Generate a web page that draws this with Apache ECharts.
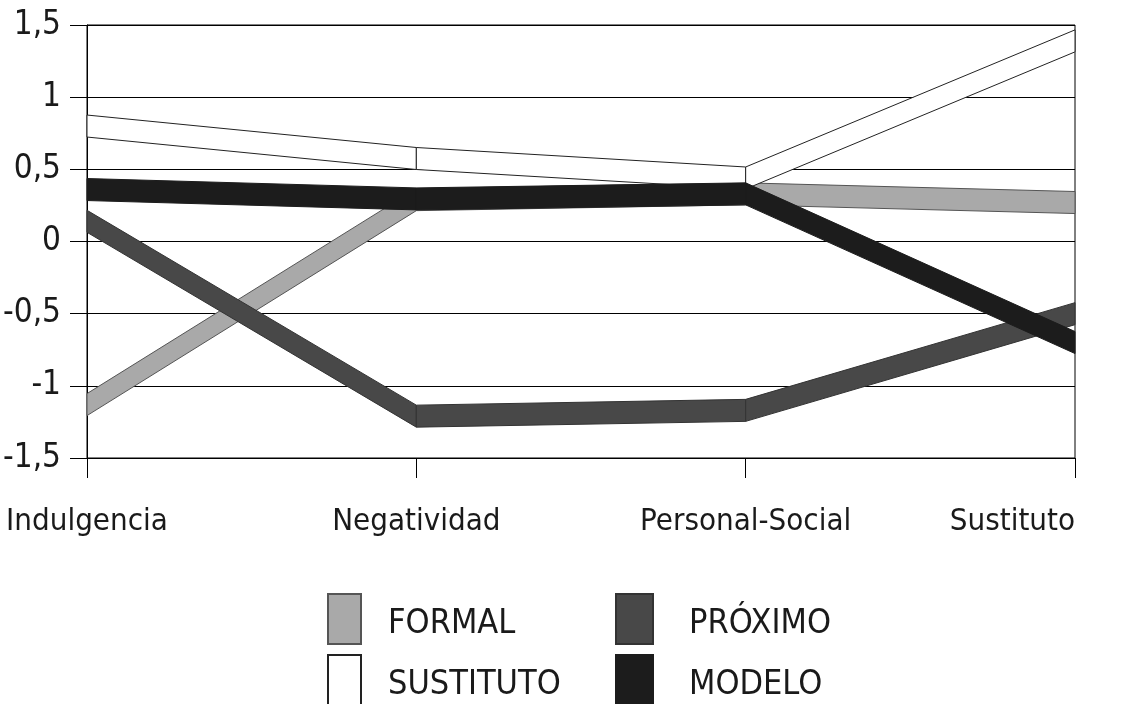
<!DOCTYPE html>
<html>
<head>
<meta charset="utf-8">
<script src="https://cdn.jsdelivr.net/npm/echarts@6/dist/echarts.min.js"></script>
<style>
html,body{margin:0;padding:0;background:#fff;}
#chart{width:1140px;height:704px;}
</style>
</head>
<body>
<div id="chart"></div>
<script>
const categories = ['Indulgencia', 'Negatividad', 'Personal-Social', 'Sustituto'];
const formal    = [-1.13, 0.29, 0.33, 0.27];
const sustituto = [0.80, 0.575, 0.44, 1.39];
const proximo   = [0.14, -1.21, -1.17, -0.50];
const modelo    = [0.36, 0.295, 0.33, -0.70];
const yTicks = [-1.5, -1, -0.5, 0, 0.5, 1, 1.5];
const legendCol1 = ['FORMAL', 'SUSTITUTO'];
const legendCol2 = ['PRÓXIMO', 'MODELO'];

const FONT = "'Liberation Sans Narrow','DejaVu Sans Condensed','Liberation Sans',sans-serif";
const HALF = 11; // half of ribbon vertical thickness in px

function segments(arr) {
  return arr.slice(0, -1).map((v, i) => [i, v, arr[i + 1]]);
}

function makeRibbon(name, arr, fill, stroke) {
  return {
    name: name,
    type: 'custom',
    data: segments(arr),
    encode: { x: 0, y: [1, 2] },
    itemStyle: { color: fill, borderColor: stroke, borderWidth: 1 },
    renderItem: function (params, api) {
      const i = api.value(0);
      const a = api.coord([i, api.value(1)]);
      const b = api.coord([i + 1, api.value(2)]);
      return {
        type: 'polygon',
        shape: { points: [[a[0], a[1] - HALF], [b[0], b[1] - HALF], [b[0], b[1] + HALF], [a[0], a[1] + HALF]] },
        style: { fill: fill, stroke: stroke, lineWidth: 1 }
      };
    },
    silent: true,
    animation: false
  };
}

function legendItem(name, left, top, w, pad) {
  return {
    data: [name], left: left, top: top, icon: 'rect', orient: 'horizontal',
    itemWidth: w, itemHeight: 50, padding: 0, selectedMode: false,
    formatter: '{t|{name}}',
    textStyle: {
      fontFamily: FONT, fontSize: 34, color: '#1a1a1a',
      rich: { t: { fontFamily: FONT, fontSize: 34, color: '#1a1a1a', padding: [10, 0, 0, pad] } }
    }
  };
}

const chart = echarts.init(document.getElementById('chart'));
chart.setOption({
  backgroundColor: '#fff',
  animation: false,
  grid: { left: 87, right: 65, top: 25, bottom: 246, show: true, borderColor: '#000', borderWidth: 1,
          containLabel: false, outerBoundsMode: 'none' },
  xAxis: {
    type: 'category',
    data: categories.map((c, i) => i === categories.length - 1 ? { value: c, textStyle: { align: 'right' } } : c),
    boundaryGap: false,
    axisLine: { show: true, onZero: false, lineStyle: { color: '#000', width: 1 } },
    axisTick: { show: true, length: 20, lineStyle: { color: '#000' } },
    axisLabel: { color: '#1a1a1a', fontFamily: FONT, fontSize: 31, margin: 48 },
    splitLine: { show: false }
  },
  yAxis: {
    type: 'value',
    min: yTicks[0], max: yTicks[yTicks.length - 1], interval: 0.5,
    axisLine: { show: true, lineStyle: { color: '#000', width: 1 } },
    axisTick: { show: true, length: 17, lineStyle: { color: '#000' } },
    axisLabel: { color: '#1a1a1a', fontFamily: FONT, fontSize: 33, margin: 26,
      formatter: v => String(v).replace('.', ',') },
    splitLine: { show: true, lineStyle: { color: '#000', width: 1 } }
  },
  legend: [
    legendItem(legendCol1[0], 327, 593, 33, 22),
    legendItem(legendCol1[1], 327, 654, 33, 22),
    legendItem(legendCol2[0], 615, 593, 37, 31),
    legendItem(legendCol2[1], 615, 654, 37, 31)
  ],
  series: [
    makeRibbon('FORMAL', formal, '#a9a9a9', '#555'),
    makeRibbon('SUSTITUTO', sustituto, '#ffffff', '#222'),
    makeRibbon('PRÓXIMO', proximo, '#484848', '#333'),
    makeRibbon('MODELO', modelo, '#1c1c1c', '#1c1c1c')
  ]
});
</script>
</body>
</html>
